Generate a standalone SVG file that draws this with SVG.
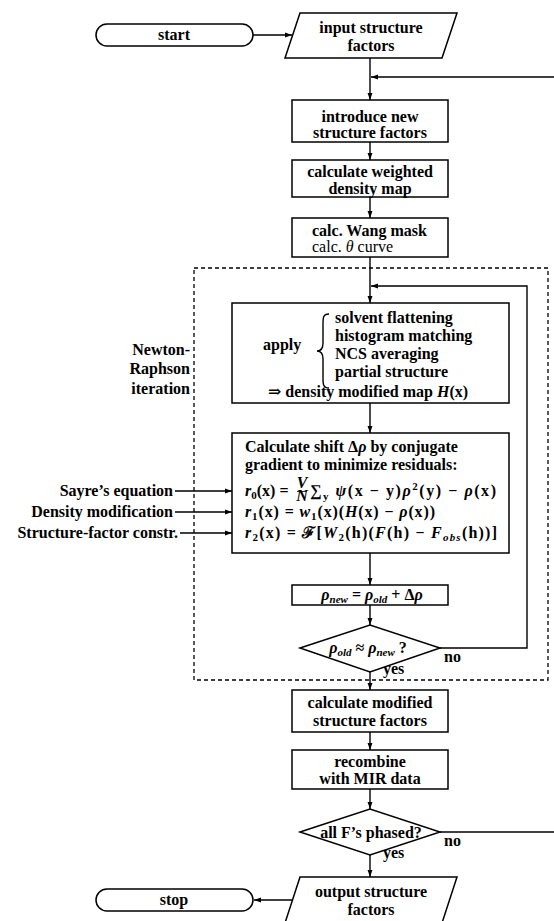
<svg xmlns="http://www.w3.org/2000/svg" width="554" height="921" viewBox="0 0 554 921">
<style>
.t{font-family:"Liberation Serif","DejaVu Serif",serif;font-size:16px;font-weight:bold;fill:#000}
.m{text-anchor:middle}
.e{text-anchor:end}
.i{font-style:italic}
.s{font-size:11px}
.n{font-weight:normal}
.box{fill:#fff;stroke:#000;stroke-width:1.5}
.ln{fill:none;stroke:#000;stroke-width:1.4}
.dash{fill:none;stroke:#000;stroke-width:1.3;stroke-dasharray:4 3}
</style>
<defs>
<marker id="a" viewBox="0 0 10 10" refX="10" refY="5" markerWidth="7" markerHeight="7" markerUnits="userSpaceOnUse" orient="auto"><path d="M0,1.5 L10,5 L0,8.5 z" fill="#000"/></marker>
</defs>
<rect width="554" height="921" fill="#fff"/>
<g id="iteration-frame">
<rect class="dash" x="194" y="268" width="354" height="412"/>
<text class="t e" x="190" y="355">Newton-</text>
<text class="t e" x="190" y="374">Raphson</text>
<text class="t e" x="190" y="394">iteration</text>
</g>
<g id="connectors">
<path class="ln" d="M253,35 H292" marker-end="url(#a)"/>
<path class="ln" d="M370,58 V100" marker-end="url(#a)"/>
<path class="ln" d="M554,77 H371" marker-end="url(#a)"/>
<path class="ln" d="M370,142 V160" marker-end="url(#a)"/>
<path class="ln" d="M370,197 V218" marker-end="url(#a)"/>
<path class="ln" d="M370,257 V303" marker-end="url(#a)"/>
<path class="ln" d="M440,648 H527 V286 H371" marker-end="url(#a)"/>
<path class="ln" d="M370,403 V433" marker-end="url(#a)"/>
<path class="ln" d="M175,491 H232" marker-end="url(#a)"/>
<path class="ln" d="M175,512 H232" marker-end="url(#a)"/>
<path class="ln" d="M180,533 H232" marker-end="url(#a)"/>
<path class="ln" d="M370,553 V585" marker-end="url(#a)"/>
<path class="ln" d="M370,605 V625" marker-end="url(#a)"/>
<path class="ln" d="M370,672 V690" marker-end="url(#a)"/>
<path class="ln" d="M370,732 V750" marker-end="url(#a)"/>
<path class="ln" d="M370,789 V809" marker-end="url(#a)"/>
<path class="ln" d="M440,832 H554"/>
<path class="ln" d="M370,855 V877" marker-end="url(#a)"/>
<path class="ln" d="M292,900 H254" marker-end="url(#a)"/>
<text class="t" x="444" y="662">no</text>
<text class="t" x="383" y="674">yes</text>
<text class="t" x="444" y="846">no</text>
<text class="t" x="383" y="858">yes</text>
</g>
<g id="start">
<rect class="box" x="96" y="24" width="157" height="22" rx="11"/>
<text class="t m" x="174" y="40">start</text>
</g>
<g id="input">
<polygon class="box" points="300,13 457,13 442,58 285,58"/>
<text class="t m" x="371" y="33">input structure</text>
<text class="t m" x="371" y="51">factors</text>
</g>
<g id="introduce">
<rect class="box" x="292" y="100" width="156" height="42"/>
<text class="t m" x="370" y="122">introduce new</text>
<text class="t m" x="370" y="138">structure factors</text>
</g>
<g id="weighted">
<rect class="box" x="292" y="160" width="156" height="37"/>
<text class="t m" x="370" y="177">calculate weighted</text>
<text class="t m" x="370" y="194">density map</text>
</g>
<g id="wang">
<rect class="box" x="292" y="218" width="156" height="39"/>
<text class="t" x="312" y="236">calc. Wang mask</text>
<text class="t n" x="312" y="252">calc. <tspan class="i">θ</tspan> curve</text>
</g>
<g id="apply">
<rect class="box" x="232" y="303" width="277" height="100"/>
<text class="t" x="263" y="350">apply</text>
<path class="ln" stroke-width="1.6" d="M329,314 C323,314 323,318 323,324 L323,343 C323,348 321,351 317,351 C321,351 323,354 323,359 L323,378 C323,384 323,388 329,388"/>
<text class="t" x="335" y="323">solvent flattening</text>
<text class="t" x="335" y="341">histogram matching</text>
<text class="t" x="335" y="359">NCS averaging</text>
<text class="t" x="335" y="377">partial structure</text>
<text class="t m" x="368" y="397">⇒ density modified map <tspan class="i">H</tspan>(x)</text>
</g>
<g id="shift">
<rect class="box" x="232" y="433" width="277" height="120"/>
<text class="t" x="245" y="452">Calculate shift Δ<tspan class="i">ρ</tspan> by conjugate</text>
<text class="t" x="245" y="470">gradient to minimize residuals:</text>
<text class="t" x="245" y="496"><tspan class="i">r</tspan><tspan class="s" dy="3">0</tspan><tspan dy="-3">(x) =</tspan></text>
<text class="t i m" font-size="9"><tspan x="302" y="488">V</tspan><tspan x="302" y="501">N</tspan></text>
<line x1="297" y1="491.5" x2="307" y2="491.5" stroke="#000" stroke-width="0.8"/>
<text class="t" x="310" y="496" textLength="186" lengthAdjust="spacing">∑<tspan class="s" dy="4">y</tspan><tspan dy="-4"> </tspan><tspan class="i">ψ</tspan>(x − y)<tspan class="i">ρ</tspan><tspan class="s" dy="-6">2</tspan><tspan dy="6">(y) − </tspan><tspan class="i">ρ</tspan>(x)</text>
<text class="t" x="245" y="517" textLength="190" lengthAdjust="spacing"><tspan class="i">r</tspan><tspan class="s" dy="3">1</tspan><tspan dy="-3">(x) = </tspan><tspan class="i">w</tspan><tspan class="s" dy="3">1</tspan><tspan dy="-3">(x)(</tspan><tspan class="i">H</tspan>(x) − <tspan class="i">ρ</tspan>(x))</text>
<text class="t" x="245" y="538" textLength="252" lengthAdjust="spacing"><tspan class="i">r</tspan><tspan class="s" dy="3">2</tspan><tspan dy="-3">(x) = </tspan>ℱ[<tspan class="i">W</tspan><tspan class="s" dy="3">2</tspan><tspan dy="-3">(h)(</tspan><tspan class="i">F</tspan>(h) − <tspan class="i">F</tspan><tspan class="s i" dy="3">obs</tspan><tspan dy="-3">(h))]</tspan></text>
</g>
<g id="labels-left">
<text class="t e" x="173" y="496">Sayre’s equation</text>
<text class="t e" x="173" y="517">Density modification</text>
<text class="t e" x="178" y="538">Structure-factor constr.</text>
</g>
<g id="update">
<rect class="box" x="292" y="585" width="156" height="20"/>
<text class="t m" x="372" y="600"><tspan class="i">ρ</tspan><tspan class="s i" dy="3">new</tspan><tspan dy="-3"> = </tspan><tspan class="i">ρ</tspan><tspan class="s i" dy="3">old</tspan><tspan dy="-3"> + Δ</tspan><tspan class="i">ρ</tspan></text>
</g>
<g id="converged">
<polygon class="box" points="300,648 370,625 440,648 370,672"/>
<text class="t m" x="368" y="653"><tspan class="i">ρ</tspan><tspan class="s i" dy="3">old</tspan><tspan dy="-3"> ≈ </tspan><tspan class="i">ρ</tspan><tspan class="s i" dy="3">new</tspan><tspan dy="-3"> ?</tspan></text>
</g>
<g id="modified">
<rect class="box" x="292" y="690" width="156" height="42"/>
<text class="t m" x="370" y="708">calculate modified</text>
<text class="t m" x="370" y="726">structure factors</text>
</g>
<g id="recombine">
<rect class="box" x="292" y="750" width="156" height="39"/>
<text class="t m" x="370" y="767">recombine</text>
<text class="t m" x="370" y="784">with MIR data</text>
</g>
<g id="phased">
<polygon class="box" points="300,832 370,809 440,832 370,855"/>
<text class="t m" x="371" y="838">all F’s phased?</text>
</g>
<g id="output">
<polygon class="box" points="300,877 457,877 442,923 285,923"/>
<text class="t m" x="371" y="897">output structure</text>
<text class="t m" x="371" y="915">factors</text>
</g>
<g id="stop">
<rect class="box" x="96" y="889" width="157" height="22" rx="11"/>
<text class="t m" x="174" y="905">stop</text>
</g>
</svg>
